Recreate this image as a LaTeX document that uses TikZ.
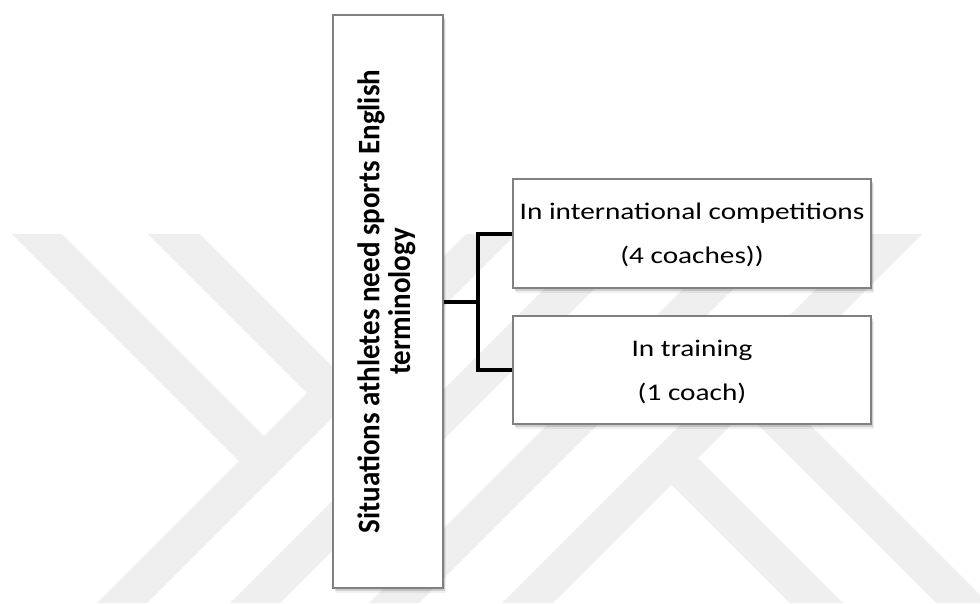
\documentclass[tikz,border=0pt]{standalone}
\usepackage{fontspec}
\setmainfont{Carlito}
\usepackage{graphicx}
\usetikzlibrary{shadows}

\definecolor{wmgray}{RGB}{239,239,239}
\definecolor{edgegray}{RGB}{128,128,128}

% Calibri-like text, set slightly wide
\newcommand\widetext[1]{\scalebox{1.23}[1]{#1}}

\begin{document}
\begin{tikzpicture}[x=1pt, y=-1pt,
  band/.style={fill=wmgray, draw=none},
  card/.style={draw=edgegray, line width=1.1pt, fill=white, inner sep=0pt,
    drop shadow={shadow xshift=0.8pt, shadow yshift=-1.2pt, opacity=.30, fill=black},
    drop shadow={shadow xshift=2pt, shadow yshift=-2.8pt, opacity=.14, fill=black},
    drop shadow={shadow xshift=3pt, shadow yshift=-4.5pt, opacity=.06, fill=black}},
  link/.style={line width=4pt, draw=black, line join=miter},
  boxtext/.style={font=\fontsize{23.8}{44}\selectfont, align=center, inner sep=0pt},
  sidetext/.style={font=\bfseries\fontsize{29}{27}\selectfont, inner sep=0pt}]

\useasboundingbox (0,0) rectangle (980,603);
\fill[white] (0,0) rectangle (980,603);

% faint emblem in the background
\begin{scope}
  \clip (0,0) rectangle (980,603);
  \fill[band] (12,234) -- (62,234) -- (276.5,448.5) -- (251.5,473.5) -- cycle;
  \fill[band] (148,234) -- (200,234) -- (345.5,379.5) -- (319.5,405.5) -- cycle;
  \fill[band] (466,234) -- (516,234) -- (147,603) -- (97,603) -- cycle;
  \fill[band] (599,234) -- (649,234) -- (280,603) -- (230,603) -- cycle;
  \fill[band] (738,234) -- (788,234) -- (419,603) -- (369,603) -- cycle;
  \fill[band] (871,234) -- (922,234) -- (553,603) -- (502,603) -- cycle;
  \fill[band] (658.5,471.5) -- (685,445) -- (843,603) -- (790,603) -- cycle;
  \fill[band] (731.5,398.5) -- (757.5,372.5) -- (988,603) -- (936,603) -- cycle;
\end{scope}

% boxes
\node[card, minimum width=110pt, minimum height=573pt] (main) at (388,301.5) {};
\node[card, minimum width=358pt, minimum height=109pt] (box1) at (692,233.5) {};
\node[card, minimum width=358pt, minimum height=108pt] (box2) at (692,370) {};

% bracket connector
\coordinate (fork) at (478,301.5);
\draw[link] (main.east) -- (fork);
\draw[link] (box1.west) -| (fork) |- (box2.west);

% texts
\node[sidetext] (maintext) at (main.center)
  {\scalebox{1.08}[1]{\rotatebox{90}{\begin{tabular}{@{}c@{}}Situations athletes need sports English\\terminology\end{tabular}}}};
\node[boxtext, yshift=-1.5pt] (text1) at (box1.center)
  {\widetext{In international competitions}\\\widetext{(4 coaches))}};
\node[boxtext, yshift=-1.5pt] (text2) at (box2.center)
  {\widetext{In training}\\\widetext{(1 coach)}};

\end{tikzpicture}
\end{document}
